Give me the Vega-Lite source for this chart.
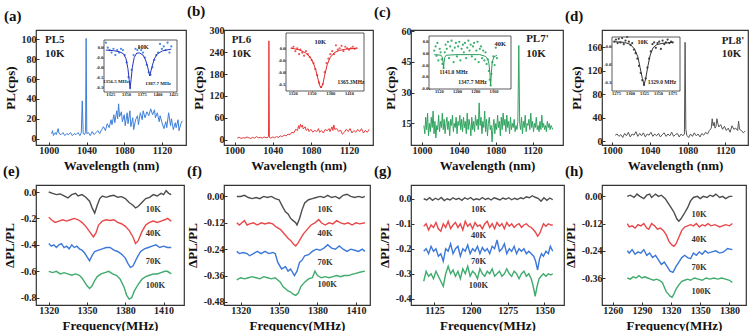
{
"$schema":"https://vega.github.io/schema/vega-lite/v6.json",
"padding":{"left":2,"top":3,"right":0,"bottom":0},
"background":"white",
"config":{
 "locale":{"number":{"decimal":".","thousands":",","grouping":[3],"currency":["$",""],"minus":"-"}},
 "font":"Liberation Serif",
 "view":{"stroke":"#333","strokeWidth":1.2},
 "axis":{"labelFont":"Liberation Serif","labelFontWeight":"bold","labelFontSize":10,"labelColor":"#222","titleFont":"Liberation Serif","titleFontWeight":"bold","titleFontSize":13,"titleColor":"#111","domain":false,"grid":false,"tickSize":-3,"tickColor":"#333","labelPadding":3,"labelOverlap":false,"labelFlush":false},
 "axisX":{"format":"d"},
 "title":{"font":"Liberation Serif","fontWeight":"bold","fontSize":15,"anchor":"start","frame":"group","color":"#111","offset":6},
 "text":{"font":"Liberation Serif","fontWeight":"bold"}
},
"datasets":{
"a":[{"x":1003,"y":5},{"x":1004,"y":8},{"x":1005,"y":3},{"x":1007,"y":6},{"x":1008,"y":4},{"x":1010,"y":10},{"x":1011,"y":5},{"x":1013,"y":4},{"x":1015,"y":6},{"x":1017,"y":3},{"x":1019,"y":5},{"x":1021,"y":4},{"x":1023,"y":6},{"x":1025,"y":3},{"x":1027,"y":5},{"x":1029,"y":4},{"x":1031,"y":6},{"x":1033,"y":3},{"x":1034.5,"y":6},{"x":1035.5,"y":38},{"x":1036.5,"y":5},{"x":1038,"y":4},{"x":1039,"y":7},{"x":1039.6,"y":101},{"x":1040.3,"y":5},{"x":1042,"y":6},{"x":1044,"y":3},{"x":1046,"y":7},{"x":1048,"y":4},{"x":1050,"y":6},{"x":1052,"y":8},{"x":1054,"y":5},{"x":1056,"y":9},{"x":1058,"y":12},{"x":1060,"y":8},{"x":1062,"y":15},{"x":1064,"y":11},{"x":1066,"y":19},{"x":1067,"y":14},{"x":1069,"y":24},{"x":1070,"y":16},{"x":1072,"y":28},{"x":1073,"y":20},{"x":1074,"y":35},{"x":1075,"y":22},{"x":1077,"y":27},{"x":1078,"y":17},{"x":1080,"y":24},{"x":1081,"y":13},{"x":1083,"y":26},{"x":1084,"y":15},{"x":1086,"y":28},{"x":1087,"y":12},{"x":1089,"y":21},{"x":1090,"y":9},{"x":1092,"y":19},{"x":1094,"y":23},{"x":1095,"y":14},{"x":1097,"y":26},{"x":1099,"y":19},{"x":1100,"y":28},{"x":1102,"y":21},{"x":1104,"y":27},{"x":1106,"y":23},{"x":1108,"y":30},{"x":1110,"y":24},{"x":1112,"y":29},{"x":1113,"y":21},{"x":1115,"y":26},{"x":1117,"y":17},{"x":1118,"y":23},{"x":1120,"y":16},{"x":1122,"y":10},{"x":1124,"y":17},{"x":1125,"y":11},{"x":1127,"y":26},{"x":1129,"y":13},{"x":1130,"y":20},{"x":1132,"y":9},{"x":1134,"y":16},{"x":1135,"y":11},{"x":1137,"y":19},{"x":1138,"y":8},{"x":1140,"y":15},{"x":1141,"y":17},{"x":1142,"y":18}],
"b":[{"x":1003,"y":4},{"x":1005,"y":6},{"x":1007,"y":3},{"x":1009,"y":5},{"x":1011,"y":4},{"x":1013,"y":7},{"x":1015,"y":5},{"x":1017,"y":3},{"x":1019,"y":6},{"x":1021,"y":4},{"x":1023,"y":8},{"x":1025,"y":5},{"x":1027,"y":6},{"x":1029,"y":4},{"x":1031,"y":7},{"x":1033,"y":5},{"x":1035,"y":6},{"x":1035.6,"y":9},{"x":1036,"y":271},{"x":1036.5,"y":6},{"x":1038,"y":4},{"x":1040,"y":7},{"x":1042,"y":5},{"x":1044,"y":8},{"x":1046,"y":6},{"x":1048,"y":10},{"x":1050,"y":8},{"x":1052,"y":12},{"x":1054,"y":10},{"x":1056,"y":15},{"x":1058,"y":13},{"x":1060,"y":20},{"x":1062,"y":18},{"x":1064,"y":28},{"x":1066,"y":25},{"x":1067,"y":38},{"x":1068,"y":30},{"x":1069,"y":42},{"x":1070,"y":34},{"x":1071,"y":40},{"x":1072,"y":29},{"x":1074,"y":35},{"x":1075,"y":25},{"x":1077,"y":30},{"x":1078,"y":22},{"x":1080,"y":28},{"x":1082,"y":20},{"x":1084,"y":25},{"x":1086,"y":22},{"x":1088,"y":30},{"x":1089,"y":20},{"x":1091,"y":25},{"x":1093,"y":18},{"x":1095,"y":28},{"x":1097,"y":24},{"x":1099,"y":30},{"x":1100,"y":22},{"x":1102,"y":35},{"x":1103,"y":25},{"x":1104,"y":40},{"x":1105,"y":28},{"x":1107,"y":30},{"x":1109,"y":22},{"x":1111,"y":26},{"x":1113,"y":15},{"x":1115,"y":20},{"x":1117,"y":28},{"x":1119,"y":22},{"x":1121,"y":30},{"x":1123,"y":18},{"x":1125,"y":25},{"x":1127,"y":20},{"x":1129,"y":28},{"x":1131,"y":22},{"x":1133,"y":30},{"x":1135,"y":18},{"x":1137,"y":25},{"x":1139,"y":20},{"x":1141,"y":28}],
"c":[{"x":1002,"y":14},{"x":1003,"y":10},{"x":1004,"y":18},{"x":1005,"y":12},{"x":1006,"y":20},{"x":1007,"y":9},{"x":1008,"y":15},{"x":1009,"y":11},{"x":1010,"y":18},{"x":1011,"y":13},{"x":1012,"y":21},{"x":1013,"y":10},{"x":1014,"y":16},{"x":1015,"y":8},{"x":1016,"y":14},{"x":1017,"y":12},{"x":1018,"y":19},{"x":1019,"y":11},{"x":1020,"y":16},{"x":1021,"y":13},{"x":1022,"y":20},{"x":1023,"y":12},{"x":1024,"y":17},{"x":1025,"y":10},{"x":1026,"y":15},{"x":1027,"y":18},{"x":1028,"y":12},{"x":1029,"y":16},{"x":1030,"y":9},{"x":1031,"y":17},{"x":1032,"y":14},{"x":1033,"y":19},{"x":1034,"y":11},{"x":1035,"y":15},{"x":1036,"y":13},{"x":1037,"y":18},{"x":1038,"y":10},{"x":1039,"y":16},{"x":1040,"y":14},{"x":1041,"y":19},{"x":1042,"y":12},{"x":1043,"y":17},{"x":1044,"y":11},{"x":1045,"y":18},{"x":1046,"y":13},{"x":1047,"y":16},{"x":1048,"y":10},{"x":1049,"y":20},{"x":1050,"y":12},{"x":1051,"y":17},{"x":1052,"y":14},{"x":1053,"y":9},{"x":1054,"y":18},{"x":1055,"y":12},{"x":1056,"y":16},{"x":1057,"y":11},{"x":1058,"y":19},{"x":1059,"y":14},{"x":1060,"y":17},{"x":1061,"y":12},{"x":1062,"y":25},{"x":1063,"y":14},{"x":1064,"y":18},{"x":1065,"y":10},{"x":1066,"y":16},{"x":1067,"y":13},{"x":1068,"y":21},{"x":1069,"y":11},{"x":1070,"y":17},{"x":1071,"y":9},{"x":1072,"y":15},{"x":1073,"y":18},{"x":1074,"y":12},{"x":1075,"y":14},{"x":1076,"y":6},{"x":1077,"y":13},{"x":1078,"y":17},{"x":1079,"y":10},{"x":1080,"y":15},{"x":1081,"y":12},{"x":1082,"y":19},{"x":1083,"y":13},{"x":1084,"y":16},{"x":1085,"y":9},{"x":1086,"y":18},{"x":1087,"y":12},{"x":1088,"y":20},{"x":1089,"y":14},{"x":1090,"y":17},{"x":1091,"y":11},{"x":1092,"y":19},{"x":1093,"y":13},{"x":1094,"y":16},{"x":1095,"y":10},{"x":1096,"y":18},{"x":1097,"y":12},{"x":1098,"y":15},{"x":1099,"y":13},{"x":1100,"y":17},{"x":1101,"y":11},{"x":1102,"y":14},{"x":1103,"y":12},{"x":1104,"y":16},{"x":1105,"y":53},{"x":1106,"y":15},{"x":1107,"y":12},{"x":1108,"y":18},{"x":1109,"y":10},{"x":1110,"y":16},{"x":1111,"y":13},{"x":1112,"y":19},{"x":1113,"y":11},{"x":1114,"y":15},{"x":1115,"y":14},{"x":1116,"y":17},{"x":1117,"y":12},{"x":1118,"y":20},{"x":1119,"y":13},{"x":1120,"y":16},{"x":1121,"y":11},{"x":1122,"y":15},{"x":1123,"y":13},{"x":1124,"y":18},{"x":1125,"y":12},{"x":1126,"y":14},{"x":1127,"y":11},{"x":1128,"y":16},{"x":1129,"y":12},{"x":1130,"y":19},{"x":1131,"y":13},{"x":1132,"y":15},{"x":1133,"y":12},{"x":1134,"y":14},{"x":1135,"y":11},{"x":1136,"y":16},{"x":1137,"y":13},{"x":1138,"y":15},{"x":1139,"y":12},{"x":1140,"y":14},{"x":1141,"y":13},{"x":1142,"y":12}],
"d":[{"x":1003,"y":10},{"x":1005,"y":12},{"x":1007,"y":8},{"x":1009,"y":11},{"x":1011,"y":6},{"x":1013,"y":13},{"x":1015,"y":9},{"x":1017,"y":15},{"x":1019,"y":7},{"x":1021,"y":12},{"x":1023,"y":10},{"x":1025,"y":16},{"x":1027,"y":8},{"x":1029,"y":13},{"x":1031,"y":9},{"x":1033,"y":14},{"x":1035,"y":7},{"x":1037,"y":12},{"x":1039,"y":10},{"x":1041,"y":15},{"x":1043,"y":8},{"x":1045,"y":12},{"x":1047,"y":9},{"x":1049,"y":13},{"x":1051,"y":7},{"x":1053,"y":11},{"x":1055,"y":14},{"x":1057,"y":8},{"x":1059,"y":12},{"x":1061,"y":9},{"x":1063,"y":15},{"x":1065,"y":8},{"x":1067,"y":11},{"x":1069,"y":13},{"x":1071,"y":7},{"x":1073,"y":12},{"x":1075,"y":9},{"x":1076.5,"y":12},{"x":1077.2,"y":168},{"x":1078,"y":20},{"x":1079,"y":10},{"x":1081,"y":6},{"x":1083,"y":12},{"x":1085,"y":8},{"x":1087,"y":14},{"x":1089,"y":9},{"x":1091,"y":12},{"x":1093,"y":7},{"x":1095,"y":13},{"x":1097,"y":10},{"x":1099,"y":15},{"x":1101,"y":12},{"x":1103,"y":18},{"x":1105,"y":22},{"x":1106,"y":38},{"x":1107,"y":26},{"x":1108,"y":32},{"x":1109,"y":22},{"x":1110,"y":25},{"x":1111,"y":38},{"x":1112,"y":30},{"x":1113,"y":24},{"x":1115,"y":28},{"x":1117,"y":20},{"x":1119,"y":25},{"x":1121,"y":18},{"x":1123,"y":22},{"x":1125,"y":15},{"x":1127,"y":26},{"x":1129,"y":20},{"x":1131,"y":22},{"x":1133,"y":18},{"x":1134,"y":34},{"x":1135,"y":20},{"x":1137,"y":18},{"x":1139,"y":14},{"x":1141,"y":17}],
"ap":[{"x":1318,"y":0.02},{"x":1321,"y":0.0},{"x":1324,"y":-0.01},{"x":1327,"y":-0.02},{"x":1330,"y":-0.005},{"x":1333,"y":-0.03},{"x":1336,"y":-0.01},{"x":1339,"y":-0.02},{"x":1342,"y":-0.005},{"x":1345,"y":-0.01},{"x":1348,"y":-0.03},{"x":1351,"y":-0.06},{"x":1354,"y":-0.12},{"x":1356.5,"y":-0.165},{"x":1359,"y":-0.09},{"x":1362,"y":-0.03},{"x":1365,"y":-0.005},{"x":1368,"y":-0.01},{"x":1371,"y":0.0},{"x":1374,"y":-0.01},{"x":1377,"y":-0.02},{"x":1380,"y":-0.04},{"x":1383,"y":-0.07},{"x":1386,"y":-0.1},{"x":1389,"y":-0.11},{"x":1392,"y":-0.08},{"x":1395,"y":-0.05},{"x":1398,"y":-0.03},{"x":1401,"y":-0.02},{"x":1404,"y":0.015},{"x":1407,"y":-0.005},{"x":1410,"y":0.005},{"x":1413,"y":-0.01},{"x":1416,"y":0.02},{"x":1419,"y":-0.02},{"x":1422,"y":0.005}],
"af":[{"x":1318,"y":-0.01},{"x":1330,"y":-0.012},{"x":1340,"y":-0.017},{"x":1346,"y":-0.025},{"x":1350,"y":-0.045},{"x":1353,"y":-0.085},{"x":1355,"y":-0.13},{"x":1356.5,"y":-0.165},{"x":1358,"y":-0.13},{"x":1360,"y":-0.08},{"x":1363,"y":-0.04},{"x":1367,"y":-0.022},{"x":1372,"y":-0.022},{"x":1377,"y":-0.03},{"x":1381,"y":-0.05},{"x":1384,"y":-0.075},{"x":1387.7,"y":-0.115},{"x":1391,"y":-0.08},{"x":1395,"y":-0.045},{"x":1400,"y":-0.025},{"x":1408,"y":-0.013},{"x":1422,"y":-0.006}],
"bp":[{"x":1318,"y":0.0},{"x":1321,"y":0.005},{"x":1324,"y":-0.01},{"x":1327,"y":0.0},{"x":1330,"y":-0.02},{"x":1332,"y":-0.005},{"x":1335,"y":-0.015},{"x":1338,"y":-0.025},{"x":1341,"y":-0.01},{"x":1344,"y":-0.02},{"x":1347,"y":-0.03},{"x":1350,"y":-0.04},{"x":1353,"y":-0.05},{"x":1356,"y":-0.07},{"x":1359,"y":-0.09},{"x":1362,"y":-0.115},{"x":1365,"y":-0.13},{"x":1368,"y":-0.12},{"x":1371,"y":-0.08},{"x":1374,"y":-0.05},{"x":1377,"y":-0.035},{"x":1380,"y":-0.02},{"x":1383,"y":-0.01},{"x":1386,"y":-0.02},{"x":1389,"y":0.01},{"x":1392,"y":-0.005},{"x":1395,"y":0.0},{"x":1398,"y":0.008},{"x":1401,"y":-0.01},{"x":1404,"y":0.005},{"x":1407,"y":0.0},{"x":1410,"y":-0.005},{"x":1413,"y":0.0},{"x":1416,"y":0.005},{"x":1419,"y":-0.002},{"x":1422,"y":0.0}],
"bf":[{"x":1318,"y":0.0},{"x":1330,"y":-0.005},{"x":1340,"y":-0.015},{"x":1348,"y":-0.03},{"x":1353,"y":-0.05},{"x":1357,"y":-0.075},{"x":1360,"y":-0.1},{"x":1363,"y":-0.125},{"x":1365.3,"y":-0.133},{"x":1368,"y":-0.12},{"x":1371,"y":-0.09},{"x":1375,"y":-0.055},{"x":1380,"y":-0.03},{"x":1387,"y":-0.014},{"x":1395,"y":-0.007},{"x":1405,"y":-0.003},{"x":1422,"y":0.0}],
"cp":[{"x":1100,"y":0.005},{"x":1106,"y":0.012},{"x":1110,"y":-0.004},{"x":1114,"y":0.018},{"x":1118,"y":-0.012},{"x":1124,"y":0.008},{"x":1128,"y":0.002},{"x":1133,"y":-0.01},{"x":1136,"y":-0.018},{"x":1141,"y":-0.025},{"x":1146,"y":0.002},{"x":1150,"y":0.015},{"x":1155,"y":0.008},{"x":1160,"y":0.02},{"x":1165,"y":-0.008},{"x":1170,"y":0.012},{"x":1176,"y":0.022},{"x":1180,"y":0.005},{"x":1185,"y":-0.015},{"x":1190,"y":0.01},{"x":1195,"y":0.018},{"x":1200,"y":-0.005},{"x":1205,"y":0.012},{"x":1210,"y":0.02},{"x":1215,"y":-0.012},{"x":1220,"y":0.008},{"x":1226,"y":0.015},{"x":1230,"y":0.002},{"x":1235,"y":0.018},{"x":1240,"y":-0.008},{"x":1245,"y":0.01},{"x":1250,"y":0.022},{"x":1255,"y":0.005},{"x":1260,"y":0.015},{"x":1265,"y":-0.005},{"x":1270,"y":0.012},{"x":1275,"y":0.018},{"x":1280,"y":-0.01},{"x":1285,"y":0.005},{"x":1290,"y":0.02},{"x":1295,"y":-0.015},{"x":1300,"y":0.008},{"x":1305,"y":0.012},{"x":1310,"y":-0.008},{"x":1315,"y":0.005},{"x":1320,"y":-0.012},{"x":1325,"y":0.002},{"x":1330,"y":-0.018},{"x":1335,"y":-0.01},{"x":1340,"y":-0.03},{"x":1344,"y":-0.045},{"x":1347.7,"y":-0.055},{"x":1351,"y":-0.035},{"x":1355,"y":-0.015},{"x":1360,"y":-0.005},{"x":1365,"y":-0.02},{"x":1370,"y":0.01},{"x":1375,"y":-0.008}],
"cf":[{"x":1100,"y":-0.002},{"x":1130,"y":-0.003},{"x":1136,"y":-0.007},{"x":1139,"y":-0.016},{"x":1141,"y":-0.025},{"x":1143,"y":-0.016},{"x":1146,"y":-0.007},{"x":1152,"y":-0.003},{"x":1200,"y":-0.002},{"x":1300,"y":-0.002},{"x":1325,"y":-0.005},{"x":1335,"y":-0.01},{"x":1340,"y":-0.017},{"x":1344,"y":-0.032},{"x":1347.7,"y":-0.055},{"x":1351,"y":-0.032},{"x":1355,"y":-0.014},{"x":1362,"y":-0.006},{"x":1375,"y":-0.003}],
"dp":[{"x":1272,"y":0.012},{"x":1275,"y":0.018},{"x":1278,"y":0.008},{"x":1280,"y":0.02},{"x":1283,"y":0.01},{"x":1286,"y":0.022},{"x":1289,"y":0.005},{"x":1292,"y":0.015},{"x":1295,"y":0.025},{"x":1298,"y":0.012},{"x":1301,"y":0.003},{"x":1304,"y":0.008},{"x":1307,"y":-0.01},{"x":1310,"y":-0.02},{"x":1313,"y":-0.035},{"x":1316,"y":-0.055},{"x":1319,"y":-0.075},{"x":1322,"y":-0.095},{"x":1325,"y":-0.108},{"x":1328,"y":-0.09},{"x":1331,"y":-0.06},{"x":1334,"y":-0.035},{"x":1337,"y":-0.015},{"x":1340,"y":0.005},{"x":1343,"y":0.01},{"x":1346,"y":-0.005},{"x":1349,"y":0.008},{"x":1352,"y":0.012},{"x":1355,"y":-0.008},{"x":1358,"y":0.015},{"x":1361,"y":0.005},{"x":1364,"y":0.01},{"x":1367,"y":0.018},{"x":1370,"y":0.008},{"x":1373,"y":0.012},{"x":1376,"y":0.01}],
"df":[{"x":1272,"y":0.012},{"x":1290,"y":0.01},{"x":1300,"y":0.005},{"x":1308,"y":-0.008},{"x":1314,"y":-0.03},{"x":1318,"y":-0.06},{"x":1322,"y":-0.09},{"x":1325,"y":-0.108},{"x":1328,"y":-0.09},{"x":1332,"y":-0.055},{"x":1336,"y":-0.025},{"x":1341,"y":-0.005},{"x":1348,"y":0.004},{"x":1360,"y":0.008},{"x":1376,"y":0.01}],
"e":[
{"s":"10K","x":1320,"y":0},{"s":"10K","x":1323,"y":-0.01},{"s":"10K","x":1326,"y":-0.02},{"s":"10K","x":1329,"y":-0.015},{"s":"10K","x":1332,"y":-0.03},{"s":"10K","x":1335,"y":-0.045},{"s":"10K","x":1338,"y":-0.02},{"s":"10K","x":1341,"y":-0.01},{"s":"10K","x":1343,"y":-0.03},{"s":"10K","x":1346,"y":-0.02},{"s":"10K","x":1349,"y":-0.04},{"s":"10K","x":1352,"y":-0.07},{"s":"10K","x":1354,"y":-0.12},{"s":"10K","x":1356,"y":-0.16},{"s":"10K","x":1358,"y":-0.1},{"s":"10K","x":1360,"y":-0.05},{"s":"10K","x":1362,"y":-0.03},{"s":"10K","x":1365,"y":-0.04},{"s":"10K","x":1368,"y":-0.03},{"s":"10K","x":1371,"y":-0.025},{"s":"10K","x":1374,"y":-0.04},{"s":"10K","x":1377,"y":-0.035},{"s":"10K","x":1380,"y":-0.05},{"s":"10K","x":1383,"y":-0.08},{"s":"10K","x":1386,"y":-0.1},{"s":"10K","x":1388,"y":-0.12},{"s":"10K","x":1390,"y":-0.11},{"s":"10K","x":1393,"y":-0.08},{"s":"10K","x":1396,"y":-0.05},{"s":"10K","x":1399,"y":-0.04},{"s":"10K","x":1402,"y":-0.02},{"s":"10K","x":1405,"y":-0.03},{"s":"10K","x":1408,"y":-0.01},{"s":"10K","x":1410,"y":-0.02},{"s":"10K","x":1412,"y":0.01},{"s":"10K","x":1414,"y":-0.01},{"s":"10K","x":1416,"y":-0.02},
{"s":"40K","x":1320,"y":-0.19},{"s":"40K","x":1322,"y":-0.21},{"s":"40K","x":1325,"y":-0.23},{"s":"40K","x":1328,"y":-0.22},{"s":"40K","x":1331,"y":-0.21},{"s":"40K","x":1334,"y":-0.22},{"s":"40K","x":1337,"y":-0.21},{"s":"40K","x":1340,"y":-0.2},{"s":"40K","x":1343,"y":-0.21},{"s":"40K","x":1346,"y":-0.23},{"s":"40K","x":1349,"y":-0.26},{"s":"40K","x":1352,"y":-0.3},{"s":"40K","x":1355,"y":-0.34},{"s":"40K","x":1357,"y":-0.31},{"s":"40K","x":1359,"y":-0.25},{"s":"40K","x":1362,"y":-0.22},{"s":"40K","x":1365,"y":-0.21},{"s":"40K","x":1368,"y":-0.215},{"s":"40K","x":1371,"y":-0.21},{"s":"40K","x":1374,"y":-0.23},{"s":"40K","x":1377,"y":-0.24},{"s":"40K","x":1380,"y":-0.26},{"s":"40K","x":1383,"y":-0.29},{"s":"40K","x":1386,"y":-0.34},{"s":"40K","x":1388,"y":-0.39},{"s":"40K","x":1390,"y":-0.37},{"s":"40K","x":1393,"y":-0.3},{"s":"40K","x":1396,"y":-0.25},{"s":"40K","x":1399,"y":-0.23},{"s":"40K","x":1402,"y":-0.22},{"s":"40K","x":1405,"y":-0.23},{"s":"40K","x":1408,"y":-0.22},{"s":"40K","x":1411,"y":-0.21},{"s":"40K","x":1413,"y":-0.2},{"s":"40K","x":1416,"y":-0.22},
{"s":"70K","x":1320,"y":-0.39},{"s":"70K","x":1322,"y":-0.41},{"s":"70K","x":1324,"y":-0.4},{"s":"70K","x":1326,"y":-0.42},{"s":"70K","x":1328,"y":-0.4},{"s":"70K","x":1330,"y":-0.39},{"s":"70K","x":1332,"y":-0.42},{"s":"70K","x":1334,"y":-0.41},{"s":"70K","x":1336,"y":-0.43},{"s":"70K","x":1338,"y":-0.4},{"s":"70K","x":1340,"y":-0.42},{"s":"70K","x":1342,"y":-0.41},{"s":"70K","x":1344,"y":-0.43},{"s":"70K","x":1346,"y":-0.44},{"s":"70K","x":1348,"y":-0.46},{"s":"70K","x":1350,"y":-0.49},{"s":"70K","x":1352,"y":-0.52},{"s":"70K","x":1354,"y":-0.48},{"s":"70K","x":1356,"y":-0.45},{"s":"70K","x":1359,"y":-0.44},{"s":"70K","x":1362,"y":-0.43},{"s":"70K","x":1365,"y":-0.42},{"s":"70K","x":1368,"y":-0.42},{"s":"70K","x":1371,"y":-0.44},{"s":"70K","x":1374,"y":-0.45},{"s":"70K","x":1377,"y":-0.47},{"s":"70K","x":1380,"y":-0.5},{"s":"70K","x":1382,"y":-0.54},{"s":"70K","x":1384,"y":-0.57},{"s":"70K","x":1386,"y":-0.56},{"s":"70K","x":1389,"y":-0.5},{"s":"70K","x":1392,"y":-0.45},{"s":"70K","x":1395,"y":-0.43},{"s":"70K","x":1398,"y":-0.42},{"s":"70K","x":1401,"y":-0.41},{"s":"70K","x":1404,"y":-0.4},{"s":"70K","x":1407,"y":-0.42},{"s":"70K","x":1410,"y":-0.41},{"s":"70K","x":1413,"y":-0.42},{"s":"70K","x":1416,"y":-0.42},
{"s":"100K","x":1320,"y":-0.6},{"s":"100K","x":1323,"y":-0.61},{"s":"100K","x":1326,"y":-0.6},{"s":"100K","x":1329,"y":-0.62},{"s":"100K","x":1332,"y":-0.61},{"s":"100K","x":1335,"y":-0.62},{"s":"100K","x":1338,"y":-0.63},{"s":"100K","x":1341,"y":-0.62},{"s":"100K","x":1344,"y":-0.63},{"s":"100K","x":1346,"y":-0.65},{"s":"100K","x":1348,"y":-0.68},{"s":"100K","x":1350,"y":-0.71},{"s":"100K","x":1352,"y":-0.73},{"s":"100K","x":1354,"y":-0.71},{"s":"100K","x":1356,"y":-0.67},{"s":"100K","x":1358,"y":-0.64},{"s":"100K","x":1361,"y":-0.62},{"s":"100K","x":1364,"y":-0.61},{"s":"100K","x":1367,"y":-0.6},{"s":"100K","x":1370,"y":-0.62},{"s":"100K","x":1373,"y":-0.63},{"s":"100K","x":1376,"y":-0.66},{"s":"100K","x":1379,"y":-0.72},{"s":"100K","x":1381,"y":-0.78},{"s":"100K","x":1383,"y":-0.81},{"s":"100K","x":1385,"y":-0.8},{"s":"100K","x":1387,"y":-0.75},{"s":"100K","x":1390,"y":-0.7},{"s":"100K","x":1393,"y":-0.66},{"s":"100K","x":1396,"y":-0.64},{"s":"100K","x":1399,"y":-0.63},{"s":"100K","x":1402,"y":-0.62},{"s":"100K","x":1405,"y":-0.62},{"s":"100K","x":1408,"y":-0.61},{"s":"100K","x":1411,"y":-0.6},{"s":"100K","x":1413,"y":-0.6},{"s":"100K","x":1416,"y":-0.62}],
"f":[
{"s":"10K","x":1317,"y":0},{"s":"10K","x":1320,"y":0},{"s":"10K","x":1323,"y":0.005},{"s":"10K","x":1326,"y":-0.005},{"s":"10K","x":1329,"y":-0.01},{"s":"10K","x":1332,"y":-0.005},{"s":"10K","x":1335,"y":-0.01},{"s":"10K","x":1338,"y":0},{"s":"10K","x":1341,"y":-0.005},{"s":"10K","x":1344,"y":0},{"s":"10K","x":1347,"y":-0.01},{"s":"10K","x":1350,"y":-0.015},{"s":"10K","x":1353,"y":-0.05},{"s":"10K","x":1355,"y":-0.07},{"s":"10K","x":1357,"y":-0.08},{"s":"10K","x":1359,"y":-0.1},{"s":"10K","x":1361,"y":-0.11},{"s":"10K","x":1363,"y":-0.12},{"s":"10K","x":1364,"y":-0.13},{"s":"10K","x":1366,"y":-0.1},{"s":"10K","x":1368,"y":-0.06},{"s":"10K","x":1370,"y":-0.03},{"s":"10K","x":1373,"y":-0.015},{"s":"10K","x":1376,"y":-0.01},{"s":"10K","x":1379,"y":-0.005},{"s":"10K","x":1382,"y":0},{"s":"10K","x":1385,"y":-0.005},{"s":"10K","x":1388,"y":0.005},{"s":"10K","x":1391,"y":-0.005},{"s":"10K","x":1394,"y":0},{"s":"10K","x":1397,"y":-0.01},{"s":"10K","x":1400,"y":0.005},{"s":"10K","x":1403,"y":0.01},{"s":"10K","x":1406,"y":0},{"s":"10K","x":1409,"y":-0.005},{"s":"10K","x":1412,"y":0},{"s":"10K","x":1415,"y":-0.005},{"s":"10K","x":1417,"y":0},
{"s":"40K","x":1317,"y":-0.12},{"s":"40K","x":1319,"y":-0.13},{"s":"40K","x":1321,"y":-0.12},{"s":"40K","x":1323,"y":-0.11},{"s":"40K","x":1325,"y":-0.13},{"s":"40K","x":1327,"y":-0.125},{"s":"40K","x":1330,"y":-0.12},{"s":"40K","x":1333,"y":-0.13},{"s":"40K","x":1336,"y":-0.12},{"s":"40K","x":1339,"y":-0.125},{"s":"40K","x":1342,"y":-0.12},{"s":"40K","x":1345,"y":-0.125},{"s":"40K","x":1348,"y":-0.14},{"s":"40K","x":1351,"y":-0.15},{"s":"40K","x":1354,"y":-0.17},{"s":"40K","x":1357,"y":-0.19},{"s":"40K","x":1359,"y":-0.2},{"s":"40K","x":1361,"y":-0.215},{"s":"40K","x":1363,"y":-0.225},{"s":"40K","x":1365,"y":-0.21},{"s":"40K","x":1367,"y":-0.19},{"s":"40K","x":1369,"y":-0.17},{"s":"40K","x":1372,"y":-0.15},{"s":"40K","x":1375,"y":-0.13},{"s":"40K","x":1378,"y":-0.12},{"s":"40K","x":1381,"y":-0.105},{"s":"40K","x":1383,"y":-0.12},{"s":"40K","x":1386,"y":-0.13},{"s":"40K","x":1389,"y":-0.12},{"s":"40K","x":1392,"y":-0.125},{"s":"40K","x":1395,"y":-0.11},{"s":"40K","x":1398,"y":-0.12},{"s":"40K","x":1401,"y":-0.125},{"s":"40K","x":1404,"y":-0.12},{"s":"40K","x":1407,"y":-0.13},{"s":"40K","x":1410,"y":-0.12},{"s":"40K","x":1413,"y":-0.125},{"s":"40K","x":1417,"y":-0.12},
{"s":"70K","x":1317,"y":-0.25},{"s":"70K","x":1319,"y":-0.26},{"s":"70K","x":1322,"y":-0.255},{"s":"70K","x":1325,"y":-0.26},{"s":"70K","x":1327,"y":-0.27},{"s":"70K","x":1330,"y":-0.26},{"s":"70K","x":1333,"y":-0.25},{"s":"70K","x":1336,"y":-0.26},{"s":"70K","x":1339,"y":-0.25},{"s":"70K","x":1342,"y":-0.26},{"s":"70K","x":1345,"y":-0.255},{"s":"70K","x":1347,"y":-0.26},{"s":"70K","x":1349,"y":-0.3},{"s":"70K","x":1352,"y":-0.33},{"s":"70K","x":1355,"y":-0.32},{"s":"70K","x":1357,"y":-0.34},{"s":"70K","x":1359,"y":-0.33},{"s":"70K","x":1362,"y":-0.36},{"s":"70K","x":1364,"y":-0.34},{"s":"70K","x":1366,"y":-0.3},{"s":"70K","x":1368,"y":-0.29},{"s":"70K","x":1370,"y":-0.27},{"s":"70K","x":1373,"y":-0.265},{"s":"70K","x":1376,"y":-0.25},{"s":"70K","x":1379,"y":-0.24},{"s":"70K","x":1382,"y":-0.245},{"s":"70K","x":1385,"y":-0.235},{"s":"70K","x":1388,"y":-0.22},{"s":"70K","x":1391,"y":-0.235},{"s":"70K","x":1394,"y":-0.24},{"s":"70K","x":1397,"y":-0.225},{"s":"70K","x":1400,"y":-0.24},{"s":"70K","x":1403,"y":-0.25},{"s":"70K","x":1406,"y":-0.24},{"s":"70K","x":1409,"y":-0.245},{"s":"70K","x":1412,"y":-0.25},{"s":"70K","x":1415,"y":-0.24},{"s":"70K","x":1417,"y":-0.25},
{"s":"100K","x":1317,"y":-0.38},{"s":"100K","x":1320,"y":-0.37},{"s":"100K","x":1323,"y":-0.375},{"s":"100K","x":1326,"y":-0.37},{"s":"100K","x":1329,"y":-0.365},{"s":"100K","x":1332,"y":-0.37},{"s":"100K","x":1335,"y":-0.375},{"s":"100K","x":1338,"y":-0.365},{"s":"100K","x":1341,"y":-0.37},{"s":"100K","x":1344,"y":-0.375},{"s":"100K","x":1347,"y":-0.37},{"s":"100K","x":1349,"y":-0.38},{"s":"100K","x":1351,"y":-0.39},{"s":"100K","x":1353,"y":-0.41},{"s":"100K","x":1355,"y":-0.42},{"s":"100K","x":1357,"y":-0.43},{"s":"100K","x":1359,"y":-0.435},{"s":"100K","x":1361,"y":-0.445},{"s":"100K","x":1363,"y":-0.45},{"s":"100K","x":1365,"y":-0.44},{"s":"100K","x":1367,"y":-0.41},{"s":"100K","x":1370,"y":-0.39},{"s":"100K","x":1373,"y":-0.375},{"s":"100K","x":1376,"y":-0.37},{"s":"100K","x":1378,"y":-0.34},{"s":"100K","x":1380,"y":-0.36},{"s":"100K","x":1383,"y":-0.37},{"s":"100K","x":1386,"y":-0.365},{"s":"100K","x":1389,"y":-0.37},{"s":"100K","x":1392,"y":-0.365},{"s":"100K","x":1395,"y":-0.36},{"s":"100K","x":1398,"y":-0.365},{"s":"100K","x":1401,"y":-0.36},{"s":"100K","x":1404,"y":-0.36},{"s":"100K","x":1407,"y":-0.355},{"s":"100K","x":1410,"y":-0.35},{"s":"100K","x":1413,"y":-0.345},{"s":"100K","x":1417,"y":-0.34}],
"g":[
{"s":"10K","x":1103,"y":0},{"s":"10K","x":1109,"y":-0.005},{"s":"10K","x":1115,"y":0.004},{"s":"10K","x":1121,"y":-0.006},{"s":"10K","x":1127,"y":0.002},{"s":"10K","x":1133,"y":-0.004},{"s":"10K","x":1139,"y":0.005},{"s":"10K","x":1145,"y":-0.007},{"s":"10K","x":1151,"y":0},{"s":"10K","x":1157,"y":-0.005},{"s":"10K","x":1163,"y":0.004},{"s":"10K","x":1169,"y":-0.003},{"s":"10K","x":1175,"y":0.002},{"s":"10K","x":1181,"y":-0.006},{"s":"10K","x":1187,"y":0.004},{"s":"10K","x":1193,"y":-0.002},{"s":"10K","x":1199,"y":0.005},{"s":"10K","x":1205,"y":-0.005},{"s":"10K","x":1211,"y":0},{"s":"10K","x":1217,"y":-0.004},{"s":"10K","x":1223,"y":0.005},{"s":"10K","x":1229,"y":-0.003},{"s":"10K","x":1235,"y":0.002},{"s":"10K","x":1241,"y":-0.005},{"s":"10K","x":1247,"y":0.004},{"s":"10K","x":1253,"y":0},{"s":"10K","x":1259,"y":-0.005},{"s":"10K","x":1265,"y":0.003},{"s":"10K","x":1271,"y":-0.002},{"s":"10K","x":1277,"y":0.004},{"s":"10K","x":1283,"y":-0.004},{"s":"10K","x":1289,"y":0.002},{"s":"10K","x":1295,"y":-0.003},{"s":"10K","x":1301,"y":0.004},{"s":"10K","x":1307,"y":0},{"s":"10K","x":1313,"y":0.008},{"s":"10K","x":1319,"y":0.004},{"s":"10K","x":1325,"y":0.012},{"s":"10K","x":1331,"y":0.006},{"s":"10K","x":1337,"y":0.002},{"s":"10K","x":1343,"y":-0.01},{"s":"10K","x":1349,"y":0.004},{"s":"10K","x":1355,"y":-0.006},{"s":"10K","x":1361,"y":0.003},{"s":"10K","x":1367,"y":-0.004},
{"s":"40K","x":1103,"y":-0.11},{"s":"40K","x":1108,"y":-0.1},{"s":"40K","x":1113,"y":-0.125},{"s":"40K","x":1118,"y":-0.105},{"s":"40K","x":1123,"y":-0.115},{"s":"40K","x":1128,"y":-0.095},{"s":"40K","x":1133,"y":-0.12},{"s":"40K","x":1138,"y":-0.13},{"s":"40K","x":1143,"y":-0.1},{"s":"40K","x":1148,"y":-0.115},{"s":"40K","x":1153,"y":-0.09},{"s":"40K","x":1158,"y":-0.12},{"s":"40K","x":1163,"y":-0.105},{"s":"40K","x":1168,"y":-0.095},{"s":"40K","x":1173,"y":-0.115},{"s":"40K","x":1178,"y":-0.1},{"s":"40K","x":1183,"y":-0.125},{"s":"40K","x":1188,"y":-0.09},{"s":"40K","x":1193,"y":-0.11},{"s":"40K","x":1198,"y":-0.1},{"s":"40K","x":1203,"y":-0.12},{"s":"40K","x":1208,"y":-0.095},{"s":"40K","x":1213,"y":-0.11},{"s":"40K","x":1218,"y":-0.105},{"s":"40K","x":1223,"y":-0.12},{"s":"40K","x":1228,"y":-0.1},{"s":"40K","x":1233,"y":-0.09},{"s":"40K","x":1238,"y":-0.115},{"s":"40K","x":1243,"y":-0.1},{"s":"40K","x":1248,"y":-0.12},{"s":"40K","x":1253,"y":-0.095},{"s":"40K","x":1258,"y":-0.11},{"s":"40K","x":1263,"y":-0.1},{"s":"40K","x":1268,"y":-0.12},{"s":"40K","x":1273,"y":-0.095},{"s":"40K","x":1278,"y":-0.11},{"s":"40K","x":1283,"y":-0.1},{"s":"40K","x":1288,"y":-0.115},{"s":"40K","x":1293,"y":-0.105},{"s":"40K","x":1298,"y":-0.1},{"s":"40K","x":1303,"y":-0.115},{"s":"40K","x":1308,"y":-0.105},{"s":"40K","x":1313,"y":-0.1},{"s":"40K","x":1318,"y":-0.11},{"s":"40K","x":1323,"y":-0.115},{"s":"40K","x":1328,"y":-0.125},{"s":"40K","x":1332,"y":-0.135},{"s":"40K","x":1336,"y":-0.15},{"s":"40K","x":1340,"y":-0.14},{"s":"40K","x":1344,"y":-0.12},{"s":"40K","x":1348,"y":-0.1},{"s":"40K","x":1353,"y":-0.11},{"s":"40K","x":1358,"y":-0.1},{"s":"40K","x":1363,"y":-0.105},{"s":"40K","x":1367,"y":-0.105},
{"s":"70K","x":1103,"y":-0.21},{"s":"70K","x":1108,"y":-0.2},{"s":"70K","x":1113,"y":-0.22},{"s":"70K","x":1118,"y":-0.19},{"s":"70K","x":1123,"y":-0.21},{"s":"70K","x":1128,"y":-0.2},{"s":"70K","x":1133,"y":-0.23},{"s":"70K","x":1138,"y":-0.22},{"s":"70K","x":1143,"y":-0.25},{"s":"70K","x":1148,"y":-0.2},{"s":"70K","x":1153,"y":-0.21},{"s":"70K","x":1158,"y":-0.18},{"s":"70K","x":1163,"y":-0.22},{"s":"70K","x":1168,"y":-0.2},{"s":"70K","x":1173,"y":-0.19},{"s":"70K","x":1178,"y":-0.23},{"s":"70K","x":1183,"y":-0.2},{"s":"70K","x":1188,"y":-0.21},{"s":"70K","x":1193,"y":-0.185},{"s":"70K","x":1198,"y":-0.22},{"s":"70K","x":1203,"y":-0.2},{"s":"70K","x":1208,"y":-0.21},{"s":"70K","x":1213,"y":-0.19},{"s":"70K","x":1218,"y":-0.22},{"s":"70K","x":1223,"y":-0.195},{"s":"70K","x":1228,"y":-0.21},{"s":"70K","x":1233,"y":-0.2},{"s":"70K","x":1238,"y":-0.22},{"s":"70K","x":1243,"y":-0.19},{"s":"70K","x":1248,"y":-0.2},{"s":"70K","x":1253,"y":-0.165},{"s":"70K","x":1258,"y":-0.21},{"s":"70K","x":1263,"y":-0.2},{"s":"70K","x":1268,"y":-0.18},{"s":"70K","x":1273,"y":-0.22},{"s":"70K","x":1278,"y":-0.2},{"s":"70K","x":1283,"y":-0.21},{"s":"70K","x":1288,"y":-0.19},{"s":"70K","x":1293,"y":-0.22},{"s":"70K","x":1298,"y":-0.2},{"s":"70K","x":1303,"y":-0.21},{"s":"70K","x":1308,"y":-0.2},{"s":"70K","x":1313,"y":-0.22},{"s":"70K","x":1318,"y":-0.21},{"s":"70K","x":1323,"y":-0.22},{"s":"70K","x":1328,"y":-0.23},{"s":"70K","x":1332,"y":-0.25},{"s":"70K","x":1336,"y":-0.285},{"s":"70K","x":1340,"y":-0.24},{"s":"70K","x":1344,"y":-0.22},{"s":"70K","x":1348,"y":-0.23},{"s":"70K","x":1353,"y":-0.21},{"s":"70K","x":1358,"y":-0.22},{"s":"70K","x":1362,"y":-0.19},{"s":"70K","x":1367,"y":-0.21},
{"s":"100K","x":1103,"y":-0.33},{"s":"100K","x":1108,"y":-0.29},{"s":"100K","x":1113,"y":-0.31},{"s":"100K","x":1118,"y":-0.3},{"s":"100K","x":1123,"y":-0.32},{"s":"100K","x":1128,"y":-0.29},{"s":"100K","x":1133,"y":-0.31},{"s":"100K","x":1138,"y":-0.33},{"s":"100K","x":1143,"y":-0.35},{"s":"100K","x":1148,"y":-0.3},{"s":"100K","x":1153,"y":-0.27},{"s":"100K","x":1158,"y":-0.3},{"s":"100K","x":1163,"y":-0.285},{"s":"100K","x":1168,"y":-0.31},{"s":"100K","x":1173,"y":-0.29},{"s":"100K","x":1178,"y":-0.32},{"s":"100K","x":1183,"y":-0.28},{"s":"100K","x":1188,"y":-0.3},{"s":"100K","x":1193,"y":-0.27},{"s":"100K","x":1198,"y":-0.31},{"s":"100K","x":1203,"y":-0.29},{"s":"100K","x":1208,"y":-0.3},{"s":"100K","x":1213,"y":-0.32},{"s":"100K","x":1218,"y":-0.28},{"s":"100K","x":1223,"y":-0.3},{"s":"100K","x":1228,"y":-0.31},{"s":"100K","x":1233,"y":-0.29},{"s":"100K","x":1238,"y":-0.3},{"s":"100K","x":1243,"y":-0.28},{"s":"100K","x":1248,"y":-0.31},{"s":"100K","x":1253,"y":-0.3},{"s":"100K","x":1258,"y":-0.29},{"s":"100K","x":1263,"y":-0.31},{"s":"100K","x":1268,"y":-0.3},{"s":"100K","x":1273,"y":-0.28},{"s":"100K","x":1278,"y":-0.3},{"s":"100K","x":1283,"y":-0.31},{"s":"100K","x":1288,"y":-0.29},{"s":"100K","x":1293,"y":-0.3},{"s":"100K","x":1298,"y":-0.32},{"s":"100K","x":1303,"y":-0.3},{"s":"100K","x":1308,"y":-0.29},{"s":"100K","x":1313,"y":-0.31},{"s":"100K","x":1318,"y":-0.3},{"s":"100K","x":1323,"y":-0.32},{"s":"100K","x":1327,"y":-0.35},{"s":"100K","x":1331,"y":-0.39},{"s":"100K","x":1335,"y":-0.35},{"s":"100K","x":1339,"y":-0.32},{"s":"100K","x":1343,"y":-0.31},{"s":"100K","x":1348,"y":-0.3},{"s":"100K","x":1353,"y":-0.31},{"s":"100K","x":1358,"y":-0.3},{"s":"100K","x":1363,"y":-0.305},{"s":"100K","x":1367,"y":-0.3}],
"h":[
{"s":"10K","x":1275,"y":0},{"s":"10K","x":1278,"y":0.005},{"s":"10K","x":1282,"y":-0.005},{"s":"10K","x":1285,"y":0.01},{"s":"10K","x":1288,"y":0},{"s":"10K","x":1292,"y":-0.01},{"s":"10K","x":1295,"y":0.005},{"s":"10K","x":1298,"y":0.01},{"s":"10K","x":1300,"y":-0.005},{"s":"10K","x":1304,"y":0.01},{"s":"10K","x":1307,"y":0},{"s":"10K","x":1310,"y":0.005},{"s":"10K","x":1314,"y":-0.01},{"s":"10K","x":1317,"y":-0.03},{"s":"10K","x":1320,"y":-0.05},{"s":"10K","x":1323,"y":-0.07},{"s":"10K","x":1326,"y":-0.1},{"s":"10K","x":1328,"y":-0.11},{"s":"10K","x":1330,"y":-0.1},{"s":"10K","x":1333,"y":-0.08},{"s":"10K","x":1337,"y":-0.05},{"s":"10K","x":1340,"y":-0.02},{"s":"10K","x":1343,"y":-0.005},{"s":"10K","x":1347,"y":0},{"s":"10K","x":1350,"y":-0.01},{"s":"10K","x":1353,"y":0},{"s":"10K","x":1357,"y":-0.005},{"s":"10K","x":1360,"y":0.005},{"s":"10K","x":1363,"y":0},{"s":"10K","x":1366,"y":0.01},{"s":"10K","x":1370,"y":-0.005},{"s":"10K","x":1373,"y":0},{"s":"10K","x":1376,"y":-0.01},{"s":"10K","x":1380,"y":0},{"s":"10K","x":1383,"y":0},
{"s":"40K","x":1275,"y":-0.12},{"s":"40K","x":1277,"y":-0.135},{"s":"40K","x":1280,"y":-0.13},{"s":"40K","x":1283,"y":-0.14},{"s":"40K","x":1286,"y":-0.125},{"s":"40K","x":1289,"y":-0.13},{"s":"40K","x":1292,"y":-0.12},{"s":"40K","x":1295,"y":-0.14},{"s":"40K","x":1297,"y":-0.145},{"s":"40K","x":1300,"y":-0.12},{"s":"40K","x":1303,"y":-0.13},{"s":"40K","x":1306,"y":-0.145},{"s":"40K","x":1309,"y":-0.14},{"s":"40K","x":1312,"y":-0.15},{"s":"40K","x":1315,"y":-0.17},{"s":"40K","x":1318,"y":-0.2},{"s":"40K","x":1321,"y":-0.215},{"s":"40K","x":1323,"y":-0.22},{"s":"40K","x":1325,"y":-0.21},{"s":"40K","x":1328,"y":-0.18},{"s":"40K","x":1331,"y":-0.15},{"s":"40K","x":1334,"y":-0.135},{"s":"40K","x":1337,"y":-0.13},{"s":"40K","x":1340,"y":-0.125},{"s":"40K","x":1343,"y":-0.13},{"s":"40K","x":1346,"y":-0.12},{"s":"40K","x":1349,"y":-0.135},{"s":"40K","x":1352,"y":-0.125},{"s":"40K","x":1355,"y":-0.13},{"s":"40K","x":1358,"y":-0.12},{"s":"40K","x":1361,"y":-0.13},{"s":"40K","x":1365,"y":-0.125},{"s":"40K","x":1370,"y":-0.135},{"s":"40K","x":1376,"y":-0.125},{"s":"40K","x":1380,"y":-0.13},{"s":"40K","x":1383,"y":-0.12},
{"s":"70K","x":1275,"y":-0.24},{"s":"70K","x":1277,"y":-0.25},{"s":"70K","x":1280,"y":-0.235},{"s":"70K","x":1283,"y":-0.255},{"s":"70K","x":1286,"y":-0.245},{"s":"70K","x":1289,"y":-0.25},{"s":"70K","x":1292,"y":-0.235},{"s":"70K","x":1295,"y":-0.26},{"s":"70K","x":1298,"y":-0.25},{"s":"70K","x":1301,"y":-0.27},{"s":"70K","x":1304,"y":-0.26},{"s":"70K","x":1307,"y":-0.28},{"s":"70K","x":1310,"y":-0.3},{"s":"70K","x":1313,"y":-0.29},{"s":"70K","x":1316,"y":-0.31},{"s":"70K","x":1319,"y":-0.33},{"s":"70K","x":1322,"y":-0.335},{"s":"70K","x":1325,"y":-0.31},{"s":"70K","x":1328,"y":-0.29},{"s":"70K","x":1331,"y":-0.27},{"s":"70K","x":1334,"y":-0.26},{"s":"70K","x":1337,"y":-0.27},{"s":"70K","x":1340,"y":-0.275},{"s":"70K","x":1343,"y":-0.25},{"s":"70K","x":1346,"y":-0.26},{"s":"70K","x":1349,"y":-0.245},{"s":"70K","x":1352,"y":-0.255},{"s":"70K","x":1355,"y":-0.24},{"s":"70K","x":1358,"y":-0.25},{"s":"70K","x":1362,"y":-0.245},{"s":"70K","x":1366,"y":-0.24},{"s":"70K","x":1370,"y":-0.25},{"s":"70K","x":1374,"y":-0.245},{"s":"70K","x":1378,"y":-0.23},{"s":"70K","x":1383,"y":-0.235},
{"s":"100K","x":1275,"y":-0.36},{"s":"100K","x":1278,"y":-0.365},{"s":"100K","x":1281,"y":-0.355},{"s":"100K","x":1284,"y":-0.36},{"s":"100K","x":1287,"y":-0.35},{"s":"100K","x":1290,"y":-0.36},{"s":"100K","x":1293,"y":-0.355},{"s":"100K","x":1296,"y":-0.36},{"s":"100K","x":1299,"y":-0.365},{"s":"100K","x":1302,"y":-0.37},{"s":"100K","x":1305,"y":-0.365},{"s":"100K","x":1308,"y":-0.37},{"s":"100K","x":1311,"y":-0.38},{"s":"100K","x":1313,"y":-0.4},{"s":"100K","x":1315,"y":-0.42},{"s":"100K","x":1317,"y":-0.43},{"s":"100K","x":1319,"y":-0.44},{"s":"100K","x":1321,"y":-0.445},{"s":"100K","x":1323,"y":-0.43},{"s":"100K","x":1325,"y":-0.41},{"s":"100K","x":1328,"y":-0.39},{"s":"100K","x":1331,"y":-0.375},{"s":"100K","x":1334,"y":-0.37},{"s":"100K","x":1337,"y":-0.365},{"s":"100K","x":1340,"y":-0.37},{"s":"100K","x":1344,"y":-0.36},{"s":"100K","x":1348,"y":-0.365},{"s":"100K","x":1352,"y":-0.37},{"s":"100K","x":1356,"y":-0.36},{"s":"100K","x":1360,"y":-0.365},{"s":"100K","x":1364,"y":-0.36},{"s":"100K","x":1368,"y":-0.365},{"s":"100K","x":1372,"y":-0.36},{"s":"100K","x":1376,"y":-0.365},{"s":"100K","x":1380,"y":-0.37},{"s":"100K","x":1383,"y":-0.38}]
},
"columns":4,
"spacing":{"row":40,"column":38},
"bounds":"flush",
"concat":[
 {"width":150,"height":115,"title":{"text":"(a)","dx":-32},
  "resolve":{"scale":{"x":"independent","y":"independent"},"axis":{"x":"independent","y":"independent"}},
  "layer":[
   {"layer":[
    {"data":{"name":"a"},"mark":{"type":"line","color":"#3d7fd9","strokeWidth":1},
     "encoding":{"x":{"field":"x","type":"quantitative","scale":{"domain":[986.5,1145.4],"nice":false,"zero":false},"axis":{"title":"Wavelength (nm)","values":[1000,1040,1080,1120],"tickCount":20}},
                 "y":{"field":"y","type":"quantitative","scale":{"domain":[-6.5,109.5],"nice":false,"zero":false},"axis":{"title":"PL(cps)","values":[0,20,40,60,80,100],"tickCount":20}}}},
    {"data":{"values":[{"x":996,"y":99,"t":"PL5"},{"x":996,"y":85,"t":"10K"}]},"mark":{"type":"text","align":"left","baseline":"middle","fontSize":11,"color":"#222"},
     "encoding":{"x":{"field":"x","type":"quantitative","title":"Wavelength (nm)"},"y":{"field":"y","type":"quantitative","title":"PL(cps)"},"text":{"field":"t"}}}
   ]},
   {"layer":[
    {"data":{"values":[{}]},"mark":{"type":"rect","fill":"white","stroke":"#333","strokeWidth":0.8},
     "encoding":{"x":{"datum":1315,"type":"quantitative","scale":{"domain":[1315,1431],"range":[68,141],"nice":false,"zero":false},"axis":{"orient":"bottom","offset":-53,"values":[1325,1350,1375,1400,1425],"tickCount":20,"title":null,"labelFontSize":4.5,"tickSize":-2,"labelPadding":1,"labelOverlap":false}},"x2":{"datum":1431},
                 "y":{"datum":-0.18,"type":"quantitative","scale":{"domain":[-0.18,0.031],"range":[62,10],"nice":false,"zero":false},"axis":{"orient":"left","offset":-68,"values":[0,-0.04,-0.08,-0.12,-0.16],"tickCount":20,"format":".2f","title":null,"labelFontSize":4.5,"tickSize":-2,"labelPadding":1,"labelOverlap":false}},"y2":{"datum":0.031}}},
    {"data":{"name":"ap"},"mark":{"type":"circle","size":5,"color":"#4a8be0","opacity":1},
     "encoding":{"x":{"field":"x","type":"quantitative","scale":{"domain":[1315,1431],"range":[68,141],"nice":false,"zero":false},"axis":{"orient":"bottom","offset":-53,"values":[1325,1350,1375,1400,1425],"tickCount":20,"title":null,"labelFontSize":4.5,"tickSize":-2,"labelPadding":1,"labelOverlap":false}},
                 "y":{"field":"y","type":"quantitative","scale":{"domain":[-0.18,0.031],"range":[62,10],"nice":false,"zero":false},"axis":{"orient":"left","offset":-68,"values":[0,-0.04,-0.08,-0.12,-0.16],"tickCount":20,"format":".2f","title":null,"labelFontSize":4.5,"tickSize":-2,"labelPadding":1,"labelOverlap":false}}}},
    {"data":{"name":"af"},"mark":{"type":"line","color":"#2433c0","strokeWidth":1},
     "encoding":{"x":{"field":"x","type":"quantitative","scale":{"domain":[1315,1431],"range":[68,141],"nice":false,"zero":false},"axis":{"orient":"bottom","offset":-53,"values":[1325,1350,1375,1400,1425],"tickCount":20,"title":null,"labelFontSize":4.5,"tickSize":-2,"labelPadding":1,"labelOverlap":false}},
                 "y":{"field":"y","type":"quantitative","scale":{"domain":[-0.18,0.031],"range":[62,10],"nice":false,"zero":false},"axis":{"orient":"left","offset":-68,"values":[0,-0.04,-0.08,-0.12,-0.16],"tickCount":20,"format":".2f","title":null,"labelFontSize":4.5,"tickSize":-2,"labelPadding":1,"labelOverlap":false}}}},
    {"data":{"values":[{"x":1377,"y":0.004,"t":"10K","f":6.5},{"x":1334,"y":-0.135,"t":"1356.5 MHz","f":5},{"x":1401,"y":-0.144,"t":"1387.7 MHz","f":5}]},"mark":{"type":"text","color":"#222"},
     "encoding":{"x":{"field":"x","type":"quantitative","scale":{"domain":[1315,1431],"range":[68,141],"nice":false,"zero":false},"axis":{"orient":"bottom","offset":-53,"values":[1325,1350,1375,1400,1425],"tickCount":20,"title":null,"labelFontSize":4.5,"tickSize":-2,"labelPadding":1,"labelOverlap":false}},
                 "y":{"field":"y","type":"quantitative","scale":{"domain":[-0.18,0.031],"range":[62,10],"nice":false,"zero":false},"axis":{"orient":"left","offset":-68,"values":[0,-0.04,-0.08,-0.12,-0.16],"tickCount":20,"format":".2f","title":null,"labelFontSize":4.5,"tickSize":-2,"labelPadding":1,"labelOverlap":false}},
                 "text":{"field":"t"},"size":{"field":"f","type":"quantitative","scale":null}}}
   ]}
  ]},
 {"width":149,"height":115,"title":{"text":"(b)","dx":-37},
  "resolve":{"scale":{"x":"independent","y":"independent"},"axis":{"x":"independent","y":"independent"}},
  "layer":[
   {"layer":[
    {"data":{"name":"b"},"mark":{"type":"line","color":"#e8393c","strokeWidth":1},
     "encoding":{"x":{"field":"x","type":"quantitative","scale":{"domain":[989,1145],"nice":false,"zero":false},"axis":{"title":"Wavelength (nm)","values":[1000,1040,1080,1120],"tickCount":20}},
                 "y":{"field":"y","type":"quantitative","scale":{"domain":[-15,301],"nice":false,"zero":false},"axis":{"title":"PL(cps)","values":[0,60,120,180,240,300],"tickCount":20}}}},
    {"data":{"values":[{"x":997,"y":274,"t":"PL6"},{"x":997,"y":235,"t":"10K"}]},"mark":{"type":"text","align":"left","baseline":"middle","fontSize":11,"color":"#222"},
     "encoding":{"x":{"field":"x","type":"quantitative","title":"Wavelength (nm)"},"y":{"field":"y","type":"quantitative","title":"PL(cps)"},"text":{"field":"t"}}}
   ]},
   {"layer":[
    {"data":{"values":[{}]},"mark":{"type":"rect","fill":"white","stroke":"#333","strokeWidth":0.8},
     "encoding":{"x":{"datum":1309,"type":"quantitative","scale":{"domain":[1309,1434],"range":[62,140],"nice":false,"zero":false},"axis":{"orient":"bottom","offset":-54,"values":[1320,1350,1380,1410],"tickCount":20,"title":null,"labelFontSize":4.5,"tickSize":-2,"labelPadding":1,"labelOverlap":false}},"x2":{"datum":1434},
                 "y":{"datum":-0.143,"type":"quantitative","scale":{"domain":[-0.143,0.051],"range":[61,3],"nice":false,"zero":false},"axis":{"orient":"left","offset":-62,"values":[0,-0.04,-0.08,-0.12],"tickCount":20,"format":".2f","title":null,"labelFontSize":4.5,"tickSize":-2,"labelPadding":1,"labelOverlap":false}},"y2":{"datum":0.051}}},
    {"data":{"name":"bp"},"mark":{"type":"circle","size":5,"color":"#ee5a5a","opacity":1},
     "encoding":{"x":{"field":"x","type":"quantitative","scale":{"domain":[1309,1434],"range":[62,140],"nice":false,"zero":false},"axis":{"orient":"bottom","offset":-54,"values":[1320,1350,1380,1410],"tickCount":20,"title":null,"labelFontSize":4.5,"tickSize":-2,"labelPadding":1,"labelOverlap":false}},
                 "y":{"field":"y","type":"quantitative","scale":{"domain":[-0.143,0.051],"range":[61,3],"nice":false,"zero":false},"axis":{"orient":"left","offset":-62,"values":[0,-0.04,-0.08,-0.12],"tickCount":20,"format":".2f","title":null,"labelFontSize":4.5,"tickSize":-2,"labelPadding":1,"labelOverlap":false}}}},
    {"data":{"name":"bf"},"mark":{"type":"line","color":"#e02828","strokeWidth":1},
     "encoding":{"x":{"field":"x","type":"quantitative","scale":{"domain":[1309,1434],"range":[62,140],"nice":false,"zero":false},"axis":{"orient":"bottom","offset":-54,"values":[1320,1350,1380,1410],"tickCount":20,"title":null,"labelFontSize":4.5,"tickSize":-2,"labelPadding":1,"labelOverlap":false}},
                 "y":{"field":"y","type":"quantitative","scale":{"domain":[-0.143,0.051],"range":[61,3],"nice":false,"zero":false},"axis":{"orient":"left","offset":-62,"values":[0,-0.04,-0.08,-0.12],"tickCount":20,"format":".2f","title":null,"labelFontSize":4.5,"tickSize":-2,"labelPadding":1,"labelOverlap":false}}}},
    {"data":{"values":[{"x":1364,"y":0.022,"t":"10K","f":6.5},{"x":1413,"y":-0.112,"t":"1365.3MHz","f":5.5}]},"mark":{"type":"text","color":"#222"},
     "encoding":{"x":{"field":"x","type":"quantitative","scale":{"domain":[1309,1434],"range":[62,140],"nice":false,"zero":false},"axis":{"orient":"bottom","offset":-54,"values":[1320,1350,1380,1410],"tickCount":20,"title":null,"labelFontSize":4.5,"tickSize":-2,"labelPadding":1,"labelOverlap":false}},
                 "y":{"field":"y","type":"quantitative","scale":{"domain":[-0.143,0.051],"range":[61,3],"nice":false,"zero":false},"axis":{"orient":"left","offset":-62,"values":[0,-0.04,-0.08,-0.12],"tickCount":20,"format":".2f","title":null,"labelFontSize":4.5,"tickSize":-2,"labelPadding":1,"labelOverlap":false}},
                 "text":{"field":"t"},"size":{"field":"f","type":"quantitative","scale":null}}}
   ]}
  ]},
 {"width":152,"height":115,"title":{"text":"(c)","dx":-37},
  "resolve":{"scale":{"x":"independent","y":"independent"},"axis":{"x":"independent","y":"independent"}},
  "layer":[
   {"layer":[
    {"data":{"name":"c"},"mark":{"type":"line","color":"#2fa35f","strokeWidth":1},
     "encoding":{"x":{"field":"x","type":"quantitative","scale":{"domain":[988,1153],"nice":false,"zero":false},"axis":{"title":"Wavelength (nm)","values":[1000,1040,1080,1120],"tickCount":20}},
                 "y":{"field":"y","type":"quantitative","scale":{"domain":[4.5,60.5],"nice":false,"zero":false},"axis":{"title":"PL(cps)","values":[15,30,45,60],"tickCount":20}}}},
    {"data":{"values":[{"x":1113,"y":56,"t":"PL7'"},{"x":1113,"y":49,"t":"10K"}]},"mark":{"type":"text","align":"left","baseline":"middle","fontSize":11,"color":"#222"},
     "encoding":{"x":{"field":"x","type":"quantitative","title":"Wavelength (nm)"},"y":{"field":"y","type":"quantitative","title":"PL(cps)"},"text":{"field":"t"}}}
   ]},
   {"layer":[
    {"data":{"values":[{}]},"mark":{"type":"rect","fill":"white","stroke":"#333","strokeWidth":0.8},
     "encoding":{"x":{"datum":1077,"type":"quantitative","scale":{"domain":[1077,1437],"range":[18,100],"nice":false,"zero":false},"axis":{"orient":"bottom","offset":-56,"values":[1120,1200,1280,1360],"tickCount":20,"title":null,"labelFontSize":4.5,"tickSize":-2,"labelPadding":1,"labelOverlap":false}},"x2":{"datum":1437},
                 "y":{"datum":-0.061,"type":"quantitative","scale":{"domain":[-0.061,0.03],"range":[59,6],"nice":false,"zero":false},"axis":{"orient":"left","offset":-18,"values":[0.02,0,-0.02,-0.04,-0.06],"tickCount":20,"format":".2f","title":null,"labelFontSize":4.5,"tickSize":-2,"labelPadding":1,"labelOverlap":false}},"y2":{"datum":0.03}}},
    {"data":{"name":"cp"},"mark":{"type":"circle","size":5,"color":"#3fb06e","opacity":1},
     "encoding":{"x":{"field":"x","type":"quantitative","scale":{"domain":[1077,1437],"range":[18,100],"nice":false,"zero":false},"axis":{"orient":"bottom","offset":-56,"values":[1120,1200,1280,1360],"tickCount":20,"title":null,"labelFontSize":4.5,"tickSize":-2,"labelPadding":1,"labelOverlap":false}},
                 "y":{"field":"y","type":"quantitative","scale":{"domain":[-0.061,0.03],"range":[59,6],"nice":false,"zero":false},"axis":{"orient":"left","offset":-18,"values":[0.02,0,-0.02,-0.04,-0.06],"tickCount":20,"format":".2f","title":null,"labelFontSize":4.5,"tickSize":-2,"labelPadding":1,"labelOverlap":false}}}},
    {"data":{"name":"cf"},"mark":{"type":"line","color":"#2a9d5a","strokeWidth":1},
     "encoding":{"x":{"field":"x","type":"quantitative","scale":{"domain":[1077,1437],"range":[18,100],"nice":false,"zero":false},"axis":{"orient":"bottom","offset":-56,"values":[1120,1200,1280,1360],"tickCount":20,"title":null,"labelFontSize":4.5,"tickSize":-2,"labelPadding":1,"labelOverlap":false}},
                 "y":{"field":"y","type":"quantitative","scale":{"domain":[-0.061,0.03],"range":[59,6],"nice":false,"zero":false},"axis":{"orient":"left","offset":-18,"values":[0.02,0,-0.02,-0.04,-0.06],"tickCount":20,"format":".2f","title":null,"labelFontSize":4.5,"tickSize":-2,"labelPadding":1,"labelOverlap":false}}}},
    {"data":{"values":[{"x":1390,"y":0.016,"t":"40K","f":6.5},{"x":1185,"y":-0.031,"t":"1141.0 MHz","f":5.5},{"x":1268,"y":-0.049,"t":"1347.7 MHz","f":5.5}]},"mark":{"type":"text","color":"#222"},
     "encoding":{"x":{"field":"x","type":"quantitative","scale":{"domain":[1077,1437],"range":[18,100],"nice":false,"zero":false},"axis":{"orient":"bottom","offset":-56,"values":[1120,1200,1280,1360],"tickCount":20,"title":null,"labelFontSize":4.5,"tickSize":-2,"labelPadding":1,"labelOverlap":false}},
                 "y":{"field":"y","type":"quantitative","scale":{"domain":[-0.061,0.03],"range":[59,6],"nice":false,"zero":false},"axis":{"orient":"left","offset":-18,"values":[0.02,0,-0.02,-0.04,-0.06],"tickCount":20,"format":".2f","title":null,"labelFontSize":4.5,"tickSize":-2,"labelPadding":1,"labelOverlap":false}},
                 "text":{"field":"t"},"size":{"field":"f","type":"quantitative","scale":null}}}
   ]}
  ]},
 {"width":146,"height":115,"title":{"text":"(d)","dx":-37},
  "resolve":{"scale":{"x":"independent","y":"independent"},"axis":{"x":"independent","y":"independent"}},
  "layer":[
   {"layer":[
    {"data":{"name":"d"},"mark":{"type":"line","color":"#555555","strokeWidth":1},
     "encoding":{"x":{"field":"x","type":"quantitative","scale":{"domain":[989,1144],"nice":false,"zero":false},"axis":{"title":"Wavelength (nm)","values":[1000,1040,1080,1120],"tickCount":20}},
                 "y":{"field":"y","type":"quantitative","scale":{"domain":[-6.7,189],"nice":false,"zero":false},"axis":{"title":"PL(cps)","values":[0,40,80,120,160],"tickCount":20}}}},
    {"data":{"values":[{"x":1116,"y":170,"t":"PL8'"},{"x":1116,"y":148,"t":"10K"}]},"mark":{"type":"text","align":"left","baseline":"middle","fontSize":11,"color":"#222"},
     "encoding":{"x":{"field":"x","type":"quantitative","title":"Wavelength (nm)"},"y":{"field":"y","type":"quantitative","title":"PL(cps)"},"text":{"field":"t"}}}
   ]},
   {"layer":[
    {"data":{"values":[{}]},"mark":{"type":"rect","fill":"white","stroke":"#333","strokeWidth":0.8},
     "encoding":{"x":{"datum":1268,"type":"quantitative","scale":{"domain":[1268,1389],"range":[10,78],"nice":false,"zero":false},"axis":{"orient":"bottom","offset":-54,"values":[1275,1300,1325,1350,1375],"tickCount":20,"title":null,"labelFontSize":4.5,"tickSize":-2,"labelPadding":1,"labelOverlap":false}},"x2":{"datum":1389},
                 "y":{"datum":-0.125,"type":"quantitative","scale":{"domain":[-0.125,0.025],"range":[61,7],"nice":false,"zero":false},"axis":{"orient":"left","offset":-10,"values":[0,-0.05,-0.1],"tickCount":20,"format":".2f","title":null,"labelFontSize":4.5,"tickSize":-2,"labelPadding":1,"labelOverlap":false}},"y2":{"datum":0.025}}},
    {"data":{"name":"dp"},"mark":{"type":"circle","size":5,"color":"#444444","opacity":1},
     "encoding":{"x":{"field":"x","type":"quantitative","scale":{"domain":[1268,1389],"range":[10,78],"nice":false,"zero":false},"axis":{"orient":"bottom","offset":-54,"values":[1275,1300,1325,1350,1375],"tickCount":20,"title":null,"labelFontSize":4.5,"tickSize":-2,"labelPadding":1,"labelOverlap":false}},
                 "y":{"field":"y","type":"quantitative","scale":{"domain":[-0.125,0.025],"range":[61,7],"nice":false,"zero":false},"axis":{"orient":"left","offset":-10,"values":[0,-0.05,-0.1],"tickCount":20,"format":".2f","title":null,"labelFontSize":4.5,"tickSize":-2,"labelPadding":1,"labelOverlap":false}}}},
    {"data":{"name":"df"},"mark":{"type":"line","color":"#333333","strokeWidth":1},
     "encoding":{"x":{"field":"x","type":"quantitative","scale":{"domain":[1268,1389],"range":[10,78],"nice":false,"zero":false},"axis":{"orient":"bottom","offset":-54,"values":[1275,1300,1325,1350,1375],"tickCount":20,"title":null,"labelFontSize":4.5,"tickSize":-2,"labelPadding":1,"labelOverlap":false}},
                 "y":{"field":"y","type":"quantitative","scale":{"domain":[-0.125,0.025],"range":[61,7],"nice":false,"zero":false},"axis":{"orient":"left","offset":-10,"values":[0,-0.05,-0.1],"tickCount":20,"format":".2f","title":null,"labelFontSize":4.5,"tickSize":-2,"labelPadding":1,"labelOverlap":false}}}},
    {"data":{"values":[{"x":1323,"y":0.012,"t":"10K","f":6},{"x":1357,"y":-0.1,"t":"1329.0 MHz","f":5.5}]},"mark":{"type":"text","color":"#222"},
     "encoding":{"x":{"field":"x","type":"quantitative","scale":{"domain":[1268,1389],"range":[10,78],"nice":false,"zero":false},"axis":{"orient":"bottom","offset":-54,"values":[1275,1300,1325,1350,1375],"tickCount":20,"title":null,"labelFontSize":4.5,"tickSize":-2,"labelPadding":1,"labelOverlap":false}},
                 "y":{"field":"y","type":"quantitative","scale":{"domain":[-0.125,0.025],"range":[61,7],"nice":false,"zero":false},"axis":{"orient":"left","offset":-10,"values":[0,-0.05,-0.1],"tickCount":20,"format":".2f","title":null,"labelFontSize":4.5,"tickSize":-2,"labelPadding":1,"labelOverlap":false}},
                 "text":{"field":"t"},"size":{"field":"f","type":"quantitative","scale":null}}}
   ]}
  ]},
 {"width":148,"height":120,"title":{"text":"(e)","dx":-33},
  "layer":[
   {"data":{"name":"e"},"mark":{"type":"line","strokeWidth":1.4},
    "encoding":{"x":{"field":"x","type":"quantitative","scale":{"domain":[1310,1426],"nice":false,"zero":false},"axis":{"title":"Frequency(MHz)","values":[1320,1350,1380,1410],"tickCount":20}},
                "y":{"field":"y","type":"quantitative","scale":{"domain":[-0.855,0.053],"nice":false,"zero":false},"axis":{"title":"ΔPL/PL","values":[0,-0.2,-0.4,-0.6,-0.8],"format":".1f","tickCount":20}},
                "color":{"field":"s","type":"nominal","scale":{"domain":["10K","40K","70K","100K"],"range":["#4d4d4d","#e8484a","#3b78d8","#3fab6c"]},"legend":null}}},
   {"data":{"values":[{"x":1396,"y":-0.127,"t":"10K"},{"x":1396,"y":-0.31,"t":"40K"},{"x":1396,"y":-0.52,"t":"70K"},{"x":1396,"y":-0.7,"t":"100K"}]},"mark":{"type":"text","align":"left","baseline":"middle","fontSize":8.5,"color":"#333"},
    "encoding":{"x":{"field":"x","type":"quantitative","title":"Frequency(MHz)"},"y":{"field":"y","type":"quantitative","title":"ΔPL/PL"},"text":{"field":"t"}}}
  ]},
 {"width":146,"height":120,"title":{"text":"(f)","dx":-37},
  "layer":[
   {"data":{"name":"f"},"mark":{"type":"line","strokeWidth":1.4},
    "encoding":{"x":{"field":"x","type":"quantitative","scale":{"domain":[1307,1421],"nice":false,"zero":false},"axis":{"title":"Frequency(MHz)","values":[1320,1350,1380,1410],"tickCount":20}},
                "y":{"field":"y","type":"quantitative","scale":{"domain":[-0.494,0.052],"nice":false,"zero":false},"axis":{"title":"ΔPL/PL","values":[0,-0.12,-0.24,-0.36,-0.48],"format":".2f","tickCount":20}},
                "color":{"field":"s","type":"nominal","scale":{"domain":["10K","40K","70K","100K"],"range":["#4d4d4d","#e8484a","#3b78d8","#3fab6c"]},"legend":null}}},
   {"data":{"values":[{"x":1380,"y":-0.057,"t":"10K"},{"x":1380,"y":-0.167,"t":"40K"},{"x":1380,"y":-0.3,"t":"70K"},{"x":1380,"y":-0.4,"t":"100K"}]},"mark":{"type":"text","align":"left","baseline":"middle","fontSize":8.5,"color":"#333"},
    "encoding":{"x":{"field":"x","type":"quantitative","title":"Frequency(MHz)"},"y":{"field":"y","type":"quantitative","title":"ΔPL/PL"},"text":{"field":"t"}}}
  ]},
 {"width":153,"height":120,"title":{"text":"(g)","dx":-37},
  "layer":[
   {"data":{"name":"g"},"mark":{"type":"line","strokeWidth":1.4},
    "encoding":{"x":{"field":"x","type":"quantitative","scale":{"domain":[1077,1390],"nice":false,"zero":false},"axis":{"title":"Frequency(MHz)","values":[1125,1200,1275,1350],"tickCount":20}},
                "y":{"field":"y","type":"quantitative","scale":{"domain":[-0.425,0.055],"nice":false,"zero":false},"axis":{"title":"ΔPL/PL","values":[0,-0.1,-0.2,-0.3,-0.4],"format":".1f","tickCount":20}},
                "color":{"field":"s","type":"nominal","scale":{"domain":["10K","40K","70K","100K"],"range":["#4d4d4d","#e8484a","#3b78d8","#3fab6c"]},"legend":null}}},
   {"data":{"values":[{"x":1215,"y":-0.04,"t":"10K"},{"x":1215,"y":-0.146,"t":"40K"},{"x":1215,"y":-0.25,"t":"70K"},{"x":1215,"y":-0.344,"t":"100K"}]},"mark":{"type":"text","align":"center","baseline":"middle","fontSize":8.5,"color":"#333"},
    "encoding":{"x":{"field":"x","type":"quantitative","title":"Frequency(MHz)"},"y":{"field":"y","type":"quantitative","title":"ΔPL/PL"},"text":{"field":"t"}}}
  ]},
 {"width":144,"height":120,"title":{"text":"(h)","dx":-37},
  "layer":[
   {"data":{"name":"h"},"mark":{"type":"line","strokeWidth":1.4},
    "encoding":{"x":{"field":"x","type":"quantitative","scale":{"domain":[1249,1397],"nice":false,"zero":false},"axis":{"title":"Frequency(MHz)","values":[1260,1290,1320,1350,1380],"tickCount":20}},
                "y":{"field":"y","type":"quantitative","scale":{"domain":[-0.479,0.05],"nice":false,"zero":false},"axis":{"title":"ΔPL/PL","values":[0,-0.12,-0.24,-0.36],"format":".2f","tickCount":20}},
                "color":{"field":"s","type":"nominal","scale":{"domain":["10K","40K","70K","100K"],"range":["#4d4d4d","#e8484a","#3b78d8","#3fab6c"]},"legend":null}}},
   {"data":{"values":[{"x":1341,"y":-0.078,"t":"10K"},{"x":1341,"y":-0.186,"t":"40K"},{"x":1341,"y":-0.31,"t":"70K"},{"x":1341,"y":-0.417,"t":"100K"}]},"mark":{"type":"text","align":"left","baseline":"middle","fontSize":8.5,"color":"#333"},
    "encoding":{"x":{"field":"x","type":"quantitative","title":"Frequency(MHz)"},"y":{"field":"y","type":"quantitative","title":"ΔPL/PL"},"text":{"field":"t"}}}
  ]}
]
}
